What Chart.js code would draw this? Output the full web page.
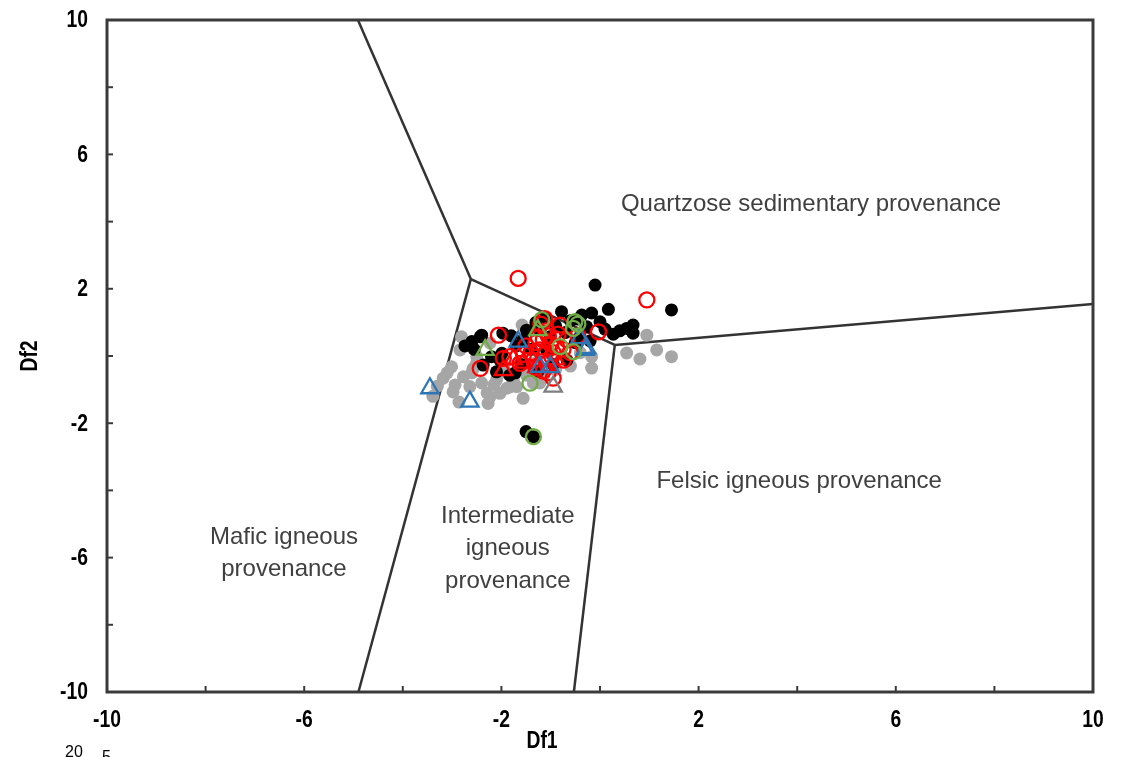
<!DOCTYPE html>
<html>
<head>
<meta charset="utf-8">
<script src="https://cdn.jsdelivr.net/npm/chart.js@4.4.1/dist/chart.umd.min.js"></script>
<style>
  html, body { margin: 0; padding: 0; background: #fff; }
</style>
</head>
<body>
<canvas id="chart" width="1127" height="757"></canvas>
<script>
// Discriminant function scores (Df1, Df2) per sample group
const grayDots = [
  [-3.39,-1.2],[-3.18,-0.66],[-3.01,-0.32],[-2.94,-0.86],[-2.98,-1.07],[-2.77,-0.62],[-2.64,-0.91],
  [-2.57,-0.37],[-2.81,0.57],[-2.84,0.18],[-2.5,-0.21],[-2.5,-0.02],[-2.23,-1.21],[-2.27,-1.41],
  [-2.03,-1.11],[-1.89,-0.96],[-1.69,-0.91],[-1.56,-1.26],[-2.1,-0.71],[-1.76,-0.71],[-2.03,-0.5],
  [-1.76,-0.63],[-1.35,-0.81],[-1.15,-0.62],[-1.49,-0.57],[-1.48,-0.33],[-2.23,0.39],[-1.58,0.92],
  [-1.22,-0.8],[-2.29,-1.1],[-1.83,-0.92],[-2.6,-0.5],[-3.1,-0.5],[-0.17,-0.02],[-0.17,-0.36],
  [-0.4,0.1],[0.54,0.09],[0.81,-0.09],[0.95,0.62],[1.15,0.18],[1.45,-0.02],[-1.3,-0.2],[-0.9,-0.4],
  [-0.6,-0.3],[-2.4,-0.8],[-1.95,-0.3],[-2.86,-1.37],[-1.1,0.1],[-3.3,-0.9],[-2.15,-0.85]
];
const blackDots = [
  [-0.1,2.11],[1.45,1.37],[0.17,1.39],[-0.17,1.28],[-0.37,1.22],[-0.78,1.32],[0,1.02],[0.54,0.82],
  [0.67,0.92],[0.27,0.65],[0.67,0.68],[-1.49,0.77],[-1.97,0.68],[-2.43,0.57],[-2.6,0.43],[-2.74,0.3],
  [-2.03,-0.12],[-1.72,-0.5],[-2.37,-0.27],[-0.27,0.87],[-1.01,0.57],[-1.22,0.77],[-0.67,-0.12],
  [-1.5,-2.25],[-1.35,-2.4],[-0.41,0.57],[-1.08,0.18],[-2.4,0.62],[-2.2,-0.02],[-2.1,-0.47],
  [-1.83,-0.57],[-1.99,0.08],[-1.56,0.48],[-1.3,1.0],[-1.1,1.15],[-0.6,1.05],[-0.9,0.9],[-0.5,0.4],
  [-0.2,0.45],[-1.7,0.3],[-1.4,0.2],[-1.8,0.6],[-0.95,-0.25],[-1.25,-0.45],[0.4,0.75],[-0.45,1.1],
  [-2.55,0.2],[-1.6,-0.25],[0.1,0.8],[-0.7,0.7]
];
const redCircles = [
  [-1.66,2.31],[0.95,1.67],[-0.03,0.72],[-1.12,1.11],[-2.06,0.62],[-2.43,-0.37],[-1.96,-0.07],
  [-0.95,-0.66],[-0.81,0.92],[-1.15,0.48],[-0.98,-0.02],[-1.35,-0.12],[-1.62,-0.22],[-1.83,-0.02],
  [-1.22,0.18],[-0.88,0.28],[-1.08,-0.22],[-0.74,-0.12],[-0.67,0.48],[-1.1,0.75],[-1.25,0.55],
  [-1.0,0.35],[-1.4,0.1],[-0.85,0.65],[-1.3,-0.35],[-1.5,0.3],[-0.6,0.1],[-1.2,0.95],[-0.95,0.1],
  [-1.15,-0.45],[-0.45,0.6],[-1.05,-0.5],[-1.3,0.4],[-0.75,0.2],[-1.55,0.05],[-1.05,0.6]
];
const redTriangles = [[-1.96,-0.42],[-1.76,-0.1],[-1.55,-0.2],[-1.28,-0.33],[-1.1,0.2],[-0.9,-0.1]];
const greenCircles = [
  [-1.35,-2.4],[-1.42,-0.81],[-0.51,1.02],[-0.54,0.82],[-0.81,0.28],[-0.54,0.13],[-1.18,1.08],[-0.45,0.95]
];
const greenTriangles = [[-2.33,0.18],[-1.26,0.77]];
const blueTriangles = [
  [-3.45,-0.96],[-2.64,-1.36],[-1.66,0.43],[-0.27,0.23],[-0.41,0.53],[-1.22,-0.32],[-1.01,-0.33],[-0.3,0.18]
];
const grayTriangles = [[-0.95,-0.91]];

// Field boundaries (Roser & Korsch style discriminant diagram)
const boundaryLines = [
  [[-4.91,10],[-2.62,2.29]],
  [[-2.62,2.29],[-4.9,-10]],
  [[-2.62,2.29],[0.3,0.33]],
  [[0.3,0.33],[10,1.55]],
  [[0.3,0.33],[-0.53,-10]]
];

// Field names, anchored at data coordinates
const regionLabels = [
  { lines: ['Quartzose sedimentary provenance'], x: 4.28, y: 4.5 },
  { lines: ['Felsic igneous provenance'], x: 4.04, y: -3.72 },
  { lines: ['Mafic igneous', 'provenance'], x: -6.41, y: -5.88 },
  { lines: ['Intermediate', 'igneous', 'provenance'], x: -1.87, y: -5.73 }
];

const axisMin = -10, axisMax = 10;
const labelledTicks = [-10, -6, -2, 2, 6, 10];

const toPts = arr => arr.map(([x, y]) => ({ x, y }));
const boldFont = "bold 23px 'Liberation Sans', Arial, sans-serif";

function pointSet(data, style, color, fill, radius, order) {
  return {
    data: toPts(data),
    pointStyle: style,
    pointRadius: radius,
    pointBorderWidth: fill ? 0 : 2.3,
    pointBackgroundColor: fill ? color : 'rgba(0,0,0,0)',
    pointBorderColor: color,
    showLine: false,
    order
  };
}

const datasets = [
  pointSet(grayTriangles, 'triangle', '#7f7f7f', false, 10, 1),
  pointSet(greenTriangles, 'triangle', '#70ad47', false, 10, 2),
  pointSet(greenCircles, 'circle', '#70ad47', false, 7.5, 3),
  pointSet(blueTriangles, 'triangle', '#2e75b6', false, 10, 4),
  pointSet(redTriangles, 'triangle', '#ff0000', false, 10, 5),
  pointSet(redCircles, 'circle', '#ff0000', false, 7.5, 6),
  pointSet(blackDots, 'circle', '#000000', true, 6.5, 7),
  pointSet(grayDots, 'circle', '#a6a6a6', true, 6.5, 8)
];
boundaryLines.forEach(seg => {
  datasets.push({
    data: toPts(seg),
    showLine: true,
    borderColor: '#333333',
    borderWidth: 2.5,
    pointRadius: 0,
    fill: false,
    order: 20
  });
});

// condensed bold text (narrow face look)
function narrowText(ctx, s, x, y, align) {
  ctx.save();
  ctx.translate(x, y);
  ctx.scale(0.84, 1);
  ctx.textAlign = align;
  ctx.fillText(s, 0, 0);
  ctx.restore();
}

const decor = {
  id: 'decor',
  afterDraw(chart) {
    const { ctx, chartArea: a, scales: { x, y } } = chart;
    ctx.save();
    // frame
    ctx.strokeStyle = '#3a3a3a';
    ctx.lineWidth = 3;
    ctx.strokeRect(a.left, a.top, a.right - a.left, a.bottom - a.top);
    // inward tick marks
    ctx.lineWidth = 2;
    x.ticks.forEach(t => {
      const px = x.getPixelForValue(t.value);
      ctx.beginPath(); ctx.moveTo(px, a.bottom); ctx.lineTo(px, a.bottom - 6); ctx.stroke();
    });
    y.ticks.forEach(t => {
      const py = y.getPixelForValue(t.value);
      ctx.beginPath(); ctx.moveTo(a.left, py); ctx.lineTo(a.left + 6, py); ctx.stroke();
    });
    // tick labels
    ctx.fillStyle = '#000';
    ctx.font = boldFont;
    ctx.textBaseline = 'middle';
    labelledTicks.forEach(v => {
      narrowText(ctx, String(v), x.getPixelForValue(v), a.bottom + 29, 'center');
      narrowText(ctx, String(v), a.left - 19, y.getPixelForValue(v) + 1, 'right');
    });
    // axis titles
    narrowText(ctx, 'Df1', 542, 742, 'center');
    ctx.save();
    ctx.translate(31, 356);
    ctx.rotate(-Math.PI / 2);
    narrowText(ctx, 'Df2', 0, 0, 'center');
    ctx.restore();
    // field names
    ctx.fillStyle = '#404040';
    ctx.font = "24px 'Liberation Sans', Arial, sans-serif";
    ctx.textAlign = 'center';
    regionLabels.forEach(r => {
      const cx = x.getPixelForValue(r.x), cy = y.getPixelForValue(r.y);
      const lh = 32.5, n = r.lines.length;
      r.lines.forEach((s, i) => ctx.fillText(s, cx, cy + (i - (n - 1) / 2) * lh));
    });
    // page line numbers at the bottom edge
    ctx.fillStyle = '#000';
    ctx.font = "16px 'Liberation Sans', Arial, sans-serif";
    ctx.textAlign = 'left';
    ctx.textBaseline = 'top';
    ctx.fillText('20', 65, 745);
    ctx.fillText('5', 102, 750);
    ctx.restore();
  }
};

new Chart(document.getElementById('chart'), {
  type: 'scatter',
  data: { datasets },
  plugins: [decor],
  options: {
    responsive: false,
    animation: false,
    layout: { padding: { top: 20, right: 34, left: 0, bottom: 0 } },
    plugins: { legend: { display: false }, tooltip: { enabled: false } },
    scales: {
      x: {
        type: 'linear', min: axisMin, max: axisMax,
        grid: { display: false }, border: { display: false },
        ticks: { stepSize: 2, autoSkip: false, display: false },
        afterFit: s => { s.height = 65; }
      },
      y: {
        type: 'linear', min: axisMin, max: axisMax,
        grid: { display: false }, border: { display: false },
        ticks: { stepSize: 2, autoSkip: false, display: false },
        afterFit: s => { s.width = 107; }
      }
    }
  }
});
</script>
</body>
</html>
